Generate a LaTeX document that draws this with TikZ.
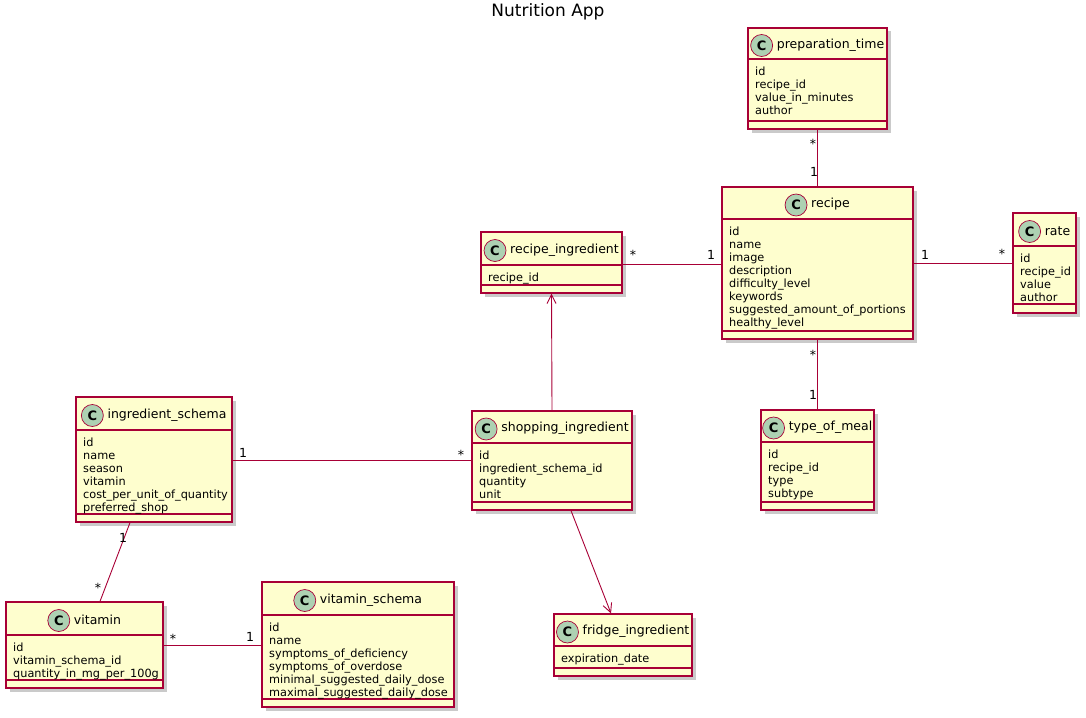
\documentclass[tikz,border=0pt]{standalone}
\usepackage{fontspec}
\setmainfont{DejaVu Sans}
\usetikzlibrary{arrows.meta,shadows}
\definecolor{umlborder}{HTML}{A80036}
\definecolor{umlfill}{HTML}{FEFECE}
\definecolor{umlbadge}{HTML}{ADD1B2}
\tikzset{
  classbox/.style={draw=umlborder, line width=1.2pt, fill=umlfill, inner sep=0pt,
    drop shadow={shadow xshift=3.5pt, shadow yshift=-3.5pt, opacity=0.35, fill=black!60}},
  sepline/.style={draw=umlborder, line width=1.1pt},
  titletext/.style={inner sep=0pt, font=\fontsize{12.5}{14}\selectfont},
  cbadge/.style={circle, draw=umlborder, line width=0.7pt, fill=umlbadge, minimum size=22pt, inner sep=0pt, font=\fontsize{13}{14}\selectfont\bfseries},
  attrtext/.style={inner sep=0pt, align=left, font=\fontsize{11.3}{13}\selectfont},
  conn/.style={draw=umlborder, line width=0.9pt},
  arr/.style={conn, -{Straight Barb[length=9pt,width=9pt,line width=0.9pt]}},
  mult/.style={inner sep=0pt, font=\fontsize{12.5}{13}\selectfont}
}
% #1 name #2 left #3 top #4 right #5 bottom #6 sep1 #7 sep2 #8 title #9 attributes
\newcommand{\umlclass}[9]{%
  \node[classbox, minimum width={#4pt-#2pt}, minimum height={#5pt-#3pt}] (#1) at ({(#2+#4)/2},{(#3+#5)/2}) {};
  \draw[sepline] (#2,#6) -- (#4,#6);
  \draw[sepline] (#2,#7) -- (#4,#7);
  \node[titletext] (#1-t) at ({(#2+#4)/2+13},{(#3+#6)/2+1.5}) {#8};
  \node[cbadge] (#1-c) at ([xshift=-15pt,yshift=-0.5pt]#1-t.west) {C};
  \node[attrtext, anchor=north west] (#1-a) at (#2+7,#6+7.5) {#9};
}
\begin{document}
\begin{tikzpicture}[x=1pt,y=-1pt]
\path[use as bounding box] (0,0) rectangle (1086,717);
\node[inner sep=0pt, font=\fontsize{17}{19}\selectfont] (title) at (548,12) {Nutrition App};

\umlclass{prep}{748}{28}{887}{129}{59}{121}{preparation\_time}{id\\recipe\_id\\value\_in\_minutes\\author}
\umlclass{recipe}{722}{187}{913}{339}{219}{331}{recipe}{id\\name\\image\\description\\difficulty\_level\\keywords\\suggested\_amount\_of\_portions\\healthy\_level}
\umlclass{rate}{1013}{213}{1076}{313}{246}{304}{rate}{id\\recipe\_id\\value\\author}
\umlclass{ri}{481}{232}{622}{293}{265}{285}{recipe\_ingredient}{recipe\_id}
\umlclass{is}{76}{397}{232}{522}{430}{514}{ingredient\_schema}{id\\name\\season\\vitamin\\cost\_per\_unit\_of\_quantity\\preferred\_shop}
\umlclass{shop}{472}{411}{632}{510}{443}{502}{shopping\_ingredient}{id\\ingredient\_schema\_id\\quantity\\unit}
\umlclass{tom}{761}{410}{874}{510}{442}{502}{type\_of\_meal}{id\\recipe\_id\\type\\subtype}
\umlclass{vit}{6}{602}{163}{688}{635}{680}{vitamin}{id\\vitamin\_schema\_id\\quantity\_in\_mg\_per\_100g}
\umlclass{vs}{262}{582}{454}{707}{615}{699}{vitamin\_schema}{id\\name\\symptoms\_of\_deficiency\\symptoms\_of\_overdose\\minimal\_suggested\_daily\_dose\\maximal\_suggested\_daily\_dose}
\umlclass{fridge}{554}{614}{692}{676}{646}{668}{fridge\_ingredient}{expiration\_date}

% connectors
\draw[conn] (prep.south) -- (recipe.north);
\node[mult] at (813,144) {*};
\node[mult] at (814,172) {1};

\draw[conn] (ri.east |- 0,264) -- (recipe.west |- 0,264);
\node[mult] at (633,255) {*};
\node[mult] at (711,255) {1};

\draw[conn] (recipe.east |- 0,263) -- (rate.west |- 0,263);
\node[mult] at (925,255) {1};
\node[mult] at (1002,254) {*};

\draw[conn] (recipe.south) -- (tom.north);
\node[mult] at (813,355) {*};
\node[mult] at (813,395) {1};

\draw[arr] (shop.north) -- (ri.south);

\draw[conn] (is.east |- 0,460) -- (shop.west |- 0,460);
\node[mult] at (243,453) {1};
\node[mult] at (461,455) {*};

\draw[conn] ([xshift=-24pt]is.south) -- ([xshift=15.5pt]vit.north);
\node[mult] at (123,538) {1};
\node[mult] at (98,588) {*};

\draw[conn] (vit.east) -- (vs.west |- vit.east);
\node[mult] at (173,639) {*};
\node[mult] at (250,637) {1};

\draw[arr] ([xshift=19pt]shop.south) -- ([xshift=-12pt]fridge.north);
\end{tikzpicture}
\end{document}
